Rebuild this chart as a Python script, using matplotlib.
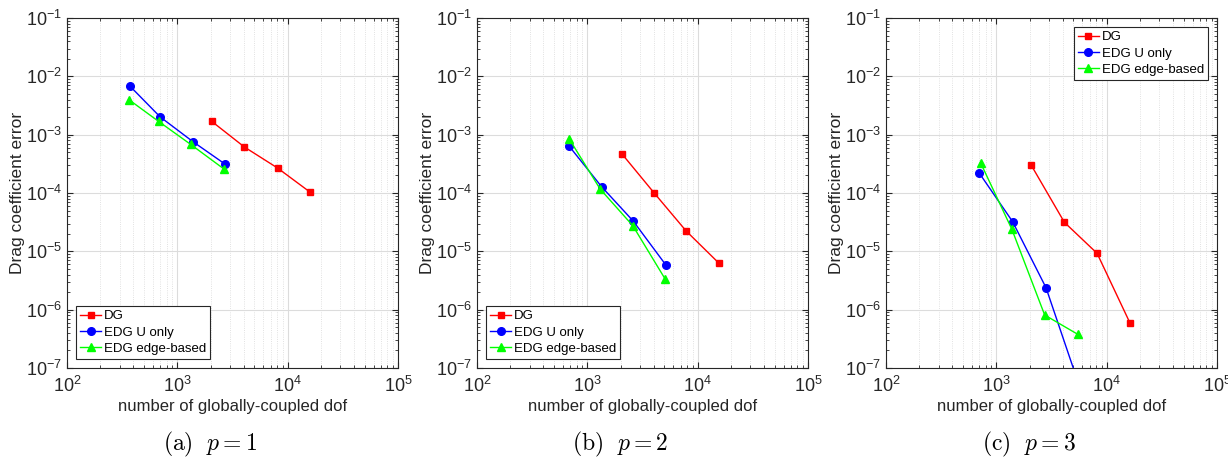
import numpy as np
import matplotlib
matplotlib.use("Agg")
import matplotlib.pyplot as plt

plt.rcParams['font.family'] = ['Liberation Sans', 'DejaVu Sans']
plt.rcParams['mathtext.fontset'] = 'custom'
plt.rcParams['mathtext.rm'] = 'Liberation Sans'

# data: (dof, drag coefficient error)
dg_dof_p1 = [2050, 4050, 8100, 15900]
dg_err_p1 = [1.69e-3, 6.15e-4, 2.68e-4, 1.04e-4]
edgu_dof_p1 = [369, 700, 1383, 2700]
edgu_err_p1 = [6.9e-3, 2.01e-3, 7.6e-4, 3.14e-4]
edge_dof_p1 = [364, 676, 1318, 2623]
edge_err_p1 = [3.98e-3, 1.69e-3, 6.83e-4, 2.61e-4]

dg_dof_p2 = [2052, 4035, 7870, 15670]
dg_err_p2 = [4.72e-4, 1.0e-4, 2.23e-5, 6.2e-6]
edgu_dof_p2 = [679, 1352, 2603, 5150]
edgu_err_p2 = [6.47e-4, 1.27e-4, 3.31e-5, 5.83e-6]
edge_dof_p2 = [689, 1306, 2583, 5070]
edge_err_p2 = [8.3e-4, 1.17e-4, 2.75e-5, 3.36e-6]

dg_dof_p3 = [2075, 4140, 8190, 16220]
dg_err_p3 = [2.98e-4, 3.14e-5, 9.24e-6, 5.98e-7]
edgu_dof_p3 = [700, 1404, 2820, 5600]
edgu_err_p3 = [2.2e-4, 3.23e-5, 2.38e-6, 5.2e-8]
edge_dof_p3 = [719, 1384, 2742, 5470]
edge_err_p3 = [3.31e-4, 2.38e-5, 8.1e-7, 3.78e-7]

captions = [r'$\mathrm{(a)}\ \ p=1$', r'$\mathrm{(b)}\ \ p=2$', r'$\mathrm{(c)}\ \ p=3$']
legend_locs = ['lower left', 'lower left', 'upper right']

panels = [
    (dg_dof_p1, dg_err_p1, edgu_dof_p1, edgu_err_p1, edge_dof_p1, edge_err_p1),
    (dg_dof_p2, dg_err_p2, edgu_dof_p2, edgu_err_p2, edge_dof_p2, edge_err_p2),
    (dg_dof_p3, dg_err_p3, edgu_dof_p3, edgu_err_p3, edge_dof_p3, edge_err_p3),
]

fig = plt.figure(figsize=(12.28, 4.57), dpi=100)
lefts = [67 / 1228, 477 / 1228, 886 / 1228]
cap_x = [210 / 1228, 620 / 1228, 1029 / 1228]
w = 331 / 1228
b = 1 - 368 / 457
h = 350 / 457

for i, (dgx, dgy, ux, uy, ex, ey) in enumerate(panels):
    ax = fig.add_axes([lefts[i], b, w, h])
    ax.plot(dgx, dgy, '-s', color=(1, 0, 0), lw=1, ms=5, label='DG')
    ax.plot(ux, uy, '-o', color=(0, 0, 1), lw=1, ms=5.5, label='EDG U only')
    ax.plot(ex, ey, '-^', color=(0, 1, 0), lw=1, ms=6, label='EDG edge-based')
    ax.set_xscale('log')
    ax.set_yscale('log')
    ax.set_xlim(1e2, 1e5)
    ax.set_ylim(1e-7, 1e-1)
    ax.grid(True, which='major', color='#dcdcdc', lw=0.8)
    ax.grid(True, which='minor', axis='x', color='#d8d8d8', lw=0.6, ls=':')
    ax.set_axisbelow(True)
    ax.tick_params(which='both', direction='in', top=True, right=True, labelsize=13,
                   color='#262626', labelcolor='#262626')
    ax.tick_params(which='major', length=4)
    ax.tick_params(which='minor', length=2)
    ax.tick_params(axis='x', which='major', pad=6)
    for s in ax.spines.values():
        s.set_linewidth(0.8)
        s.set_color('#262626')
    ax.set_xlabel('number of globally-coupled dof', fontsize=12, labelpad=2, color='#262626')
    ax.set_ylabel('Drag coefficient error', fontsize=12.5, labelpad=1, color='#262626')
    leg = ax.legend(loc=legend_locs[i], fontsize=9.5, fancybox=False, framealpha=1,
                    edgecolor='#262626', handlelength=1.6, handletextpad=0.2,
                    borderpad=0.3, labelspacing=0.3, borderaxespad=0.7)
    leg.get_frame().set_linewidth(0.8)
    fig.text(cap_x[i], 1 - 444 / 457, captions[i], ha='center', va='center',
             fontsize=17, math_fontfamily='cm')

fig.savefig('out.png', dpi=100)
